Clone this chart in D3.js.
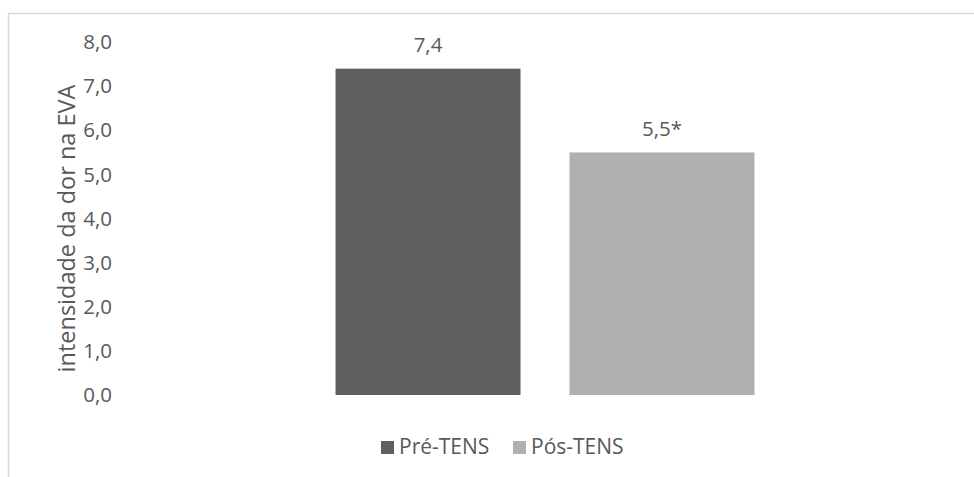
<!DOCTYPE html>
<html>
<head>
<meta charset="utf-8">
<script src="https://cdn.jsdelivr.net/npm/d3@7"></script>
<style>
  html, body { margin: 0; padding: 0; background: #fff; }
  svg text { font-family: "Open Sans", "Noto Sans", sans-serif; fill: #595959; }
</style>
</head>
<body>
<svg id="chart" width="974" height="477"></svg>
<script>
// Pain intensity (VAS) before and after TENS
const categories = ["EVA"];
const seriesNames = ["Pré-TENS", "Pós-TENS"];
const seriesValues = [7.4, 5.5];
const valueLabels = ["7,4", "5,5*"];
const seriesColors = ["#5f5f5f", "#b0b0b0"];
const yTicks = [0, 1, 2, 3, 4, 5, 6, 7, 8];
const yTitle = "intensidade da dor na EVA";

const svg = d3.select("#chart");
const W = 974, H = 477;

// outer chart frame (top and left edges visible)
svg.append("path")
  .attr("d", `M8.5,${H} V13.5 H${W}`)
  .attr("fill", "none")
  .attr("stroke", "#d9d9d9")
  .attr("stroke-width", 1.5);

const plot = { left: 124, right: 966, top: 42.2, bottom: 395 };

const y = d3.scaleLinear().domain([0, 8]).range([plot.bottom, plot.top]);
const x0 = d3.scaleBand().domain(categories).range([plot.left, plot.right])
  .paddingInner(0).paddingOuter(0.505);
const x1 = d3.scaleBand().domain(seriesNames).range([0, x0.bandwidth()])
  .paddingInner(0.2094).paddingOuter(0);

const fmt = v => d3.format(".1f")(v).replace(".", ",");

// y axis: labels only
const yAxis = d3.axisLeft(y).tickValues(yTicks).tickFormat(fmt).tickSize(0).tickPadding(0);
const gy = svg.append("g").attr("transform", `translate(112,0)`).call(yAxis);
gy.select(".domain").remove();
gy.selectAll("text")
  .style("font-size", "20.5px")
  .attr("fill", "#595959");
gy.attr("font-family", null);

// axis title
svg.append("text")
  .attr("transform", `translate(75,${228.5}) rotate(-90)`)
  .attr("text-anchor", "middle")
  .style("font-size", "23.5px")
  .text(yTitle);

// bars
const g = svg.append("g");
categories.forEach(cat => {
  seriesNames.forEach((s, i) => {
    const bx = x0(cat) + x1(s);
    g.append("rect")
      .attr("x", bx)
      .attr("y", y(seriesValues[i]))
      .attr("width", x1.bandwidth())
      .attr("height", y(0) - y(seriesValues[i]))
      .attr("fill", seriesColors[i]);
    g.append("text")
      .attr("x", bx + x1.bandwidth() / 2)
      .attr("y", y(seriesValues[i]) - 16.5)
      .attr("text-anchor", "middle")
      .style("font-size", "20.5px")
      .text(valueLabels[i]);
  });
});

// legend
const legendItems = [
  { name: seriesNames[0], color: seriesColors[0], x: 381 },
  { name: seriesNames[1], color: seriesColors[1], x: 513 }
];
const lg = svg.append("g");
legendItems.forEach(it => {
  lg.append("rect").attr("x", it.x).attr("y", 441).attr("width", 13).attr("height", 13).attr("fill", it.color);
  lg.append("text").attr("x", it.x + 18).attr("y", 453.5)
    .style("font-size", "21px").text(it.name);
});
</script>
</body>
</html>
